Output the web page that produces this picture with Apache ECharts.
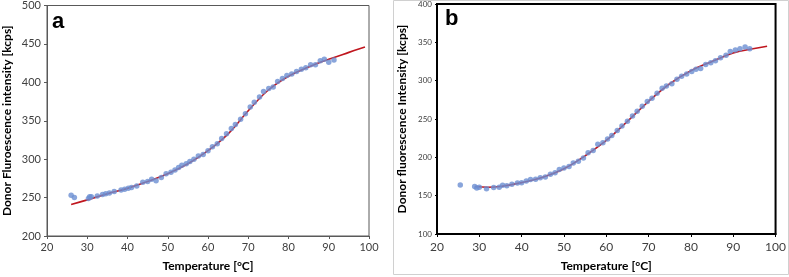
<!DOCTYPE html>
<html>
<head>
<meta charset="utf-8">
<script src="https://cdn.jsdelivr.net/npm/echarts@6/dist/echarts.min.js"></script>
<style>
  html, body { margin: 0; padding: 0; background: #fff; }
  #chart { width: 789px; height: 277px; }
</style>
</head>
<body>
<div id="chart"></div>
<script>
// panel a: measured points
var tempA = [26.0, 26.8, 30.3, 30.6, 31.0, 32.5, 33.8, 34.6, 35.5, 36.7, 38.4, 39.3, 40.2, 41.0, 42.3, 43.8, 45.0, 46.0, 47.1, 48.4,
  49.6, 50.8, 51.8, 52.7, 53.5, 54.6, 55.5, 56.5, 57.6, 58.8, 60.0, 61.1, 62.3, 63.4, 64.6, 65.8, 66.8, 68.1, 69.3, 70.5,
  71.5, 72.8, 73.8, 75.1, 76.2, 77.3, 78.5, 79.6, 80.8, 82.0, 83.2, 84.3, 85.5, 86.7, 87.9, 88.9, 90.0, 91.3]
var signalA = [253, 250, 248.7, 251, 251, 252, 254, 255, 256, 258, 260, 261, 262, 263, 265, 270, 271, 274, 272, 276,
  281, 283, 286, 289, 292, 294, 297, 300, 304, 306, 311, 316, 320, 327, 333, 340, 345, 352, 359, 368,
  374, 381, 388, 392, 394, 401, 405, 409, 411, 414, 417, 419, 423, 423, 428, 430, 426, 429]
// panel a: fitted curve
var fitTempA = [26, 30, 35, 40, 45, 50, 55, 60, 65, 70, 75, 80, 85, 90, 95, 99]
var fitA = [241, 247, 255, 262, 271, 281, 294, 311, 333, 363, 390, 408, 420, 430, 439, 446]

// panel b: measured points
var tempB = [25.5, 28.9, 29.4, 30.0, 31.7, 33.4, 34.7, 35.5, 36.5, 37.7, 39.0, 40.0, 41.1, 42.1, 43.3, 44.4, 45.6, 46.8, 47.9, 48.9,
  50.0, 51.2, 52.2, 53.4, 54.6, 55.7, 56.9, 58.0, 59.2, 60.3, 61.3, 62.6, 63.7, 65.0, 66.2, 67.3, 68.5, 69.7, 70.8, 72.0,
  73.2, 74.2, 75.5, 76.7, 77.8, 79.0, 80.2, 81.2, 82.3, 83.5, 84.7, 85.8, 87.0, 88.3, 89.3, 90.5, 91.6, 92.8, 93.9]
var signalB = [164, 162, 160, 161, 159, 160.5, 161, 163.5, 163, 165, 166.5, 167, 169, 171, 171.5, 173.5, 174.5, 178, 180, 184,
  186, 188, 192.5, 195, 199, 206, 209, 217, 219, 224, 228.6, 235, 241, 247, 254, 260, 266.7, 272.7, 277, 283.6,
  290, 293, 296, 302, 305.7, 308.6, 312, 315, 316, 321, 323.4, 326, 330, 333, 338, 340, 341.6, 343.8, 341.6]
// panel b: fitted curve
var fitTempB = [29, 32, 35, 40, 45, 50, 55, 60, 65, 70, 75, 80, 85, 90, 95, 98]
var fitB = [162, 161, 162, 167, 174, 185, 202, 222, 247, 273, 296, 313, 325, 336, 342, 345]

function pairs(xs, ys) {
  return xs.map(function (x, i) { return [x, ys[i]] })
}

var chart = echarts.init(document.getElementById('chart'), null, { renderer: 'canvas' })

var tickFont = { fontFamily: 'Lato', color: '#404040' }
var titleFont = { fontFamily: 'Lato', fontWeight: 'bold', fontSize: 12, color: '#000' }

chart.setOption({
  animation: false,
  graphic: [
    { type: 'text', left: 52, top: 11, style: { text: 'a', font: 'bold 22px "Liberation Sans"', fill: '#000' } },
    { type: 'text', left: 445, top: 8, style: { text: 'b', font: 'bold 22px "Liberation Sans"', fill: '#000' } },
    { type: 'rect', shape: { x: 393.5, y: 0.5, width: 395, height: 274 }, style: { fill: 'none', stroke: '#d0d0d0', lineWidth: 1 }, silent: true }
  ],
  grid: [
    { left: 44, top: 5, width: 325, height: 232, show: true, borderColor: '#595959', borderWidth: 1, backgroundColor: 'transparent' },
    { left: 437, top: 4, width: 343, height: 236, show: true, borderColor: '#000', borderWidth: 2, backgroundColor: 'transparent' }
  ],
  xAxis: [
    {
      gridIndex: 0, type: 'value', min: 20, max: 100, interval: 10,
      name: 'Temperature [°C]', nameLocation: 'middle', nameGap: 24, nameTextStyle: titleFont,
      axisLine: { lineStyle: { color: '#595959' } },
      axisTick: { length: 3, lineStyle: { color: '#595959' } },
      axisLabel: Object.assign({ fontSize: 11, margin: 6 }, tickFont),
      splitLine: { show: false }
    },
    {
      gridIndex: 1, type: 'value', min: 20, max: 100, interval: 10,
      name: 'Temperature [°C]', nameLocation: 'middle', nameGap: 26, nameTextStyle: titleFont,
      axisLine: { lineStyle: { color: '#000', width: 2 } },
      axisTick: { length: 3, lineStyle: { color: '#000' } },
      axisLabel: Object.assign({ fontSize: 12, margin: 7 }, tickFont),
      splitLine: { show: false }
    }
  ],
  yAxis: [
    {
      gridIndex: 0, type: 'value', min: 200, max: 500, interval: 50,
      name: 'Donor Fluroescence intensity [kcps]', nameLocation: 'middle', nameGap: 34, nameTextStyle: titleFont,
      axisLine: { show: true, lineStyle: { color: '#595959' } },
      axisTick: { show: true, length: 3, lineStyle: { color: '#595959' } },
      axisLabel: Object.assign({ fontSize: 11, margin: 6 }, tickFont),
      splitLine: { show: false }
    },
    {
      gridIndex: 1, type: 'value', min: 100, max: 400, interval: 50,
      name: 'Donor fluorescence Intensity [kcps]', nameLocation: 'middle', nameGap: 29, nameTextStyle: titleFont,
      axisLine: { show: true, lineStyle: { color: '#000', width: 2 } },
      axisTick: { show: true, length: 2, lineStyle: { color: '#000' } },
      axisLabel: Object.assign({ fontSize: 8, margin: 5 }, tickFont),
      splitLine: { show: false }
    }
  ],
  series: [
    {
      type: 'line', xAxisIndex: 0, yAxisIndex: 0, data: pairs(fitTempA, fitA),
      smooth: 0.4, showSymbol: false, lineStyle: { color: '#c0161e', width: 1.6 }, z: 2
    },
    {
      type: 'scatter', xAxisIndex: 0, yAxisIndex: 0, data: pairs(tempA, signalA),
      symbolSize: 5.5, itemStyle: { color: '#6b8fd2' }, z: 3
    },
    {
      type: 'line', xAxisIndex: 1, yAxisIndex: 1, data: pairs(fitTempB, fitB),
      smooth: 0.4, showSymbol: false, lineStyle: { color: '#c0161e', width: 1.6 }, z: 2
    },
    {
      type: 'scatter', xAxisIndex: 1, yAxisIndex: 1, data: pairs(tempB, signalB),
      symbolSize: 5.5, itemStyle: { color: '#6b8fd2' }, z: 3
    }
  ]
})
</script>
</body>
</html>
